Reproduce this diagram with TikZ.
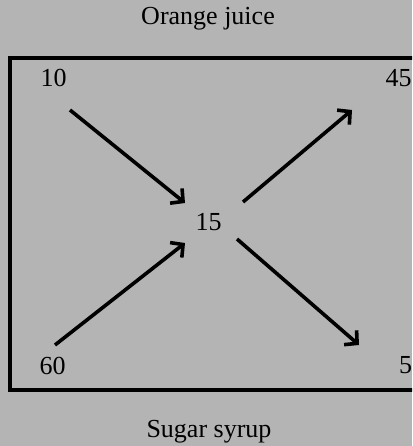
\documentclass[tikz,border=0pt]{standalone}
\usepackage{fontspec}
\setmainfont{Liberation Serif}
\usetikzlibrary{arrows.meta}
\definecolor{bggray}{RGB}{180,180,180}

\begin{document}
\begin{tikzpicture}[
    x=1pt, y=-1pt,
    label/.style={font=\fontsize{26}{31}\selectfont, inner sep=0pt},
    num/.style={font=\fontsize{26}{31}\selectfont, inner sep=0pt},
    frame/.style={draw=black, line width=3.4pt},
    arrow/.style={-{Straight Barb[length=9pt, width=19pt]}, line width=3.6pt}
]

% Background
\clip (0,0) rectangle (412,446);
\fill[bggray] (0,0) rectangle (412,446);

% Frame
\draw[frame] (10,58) rectangle (425,390);

% Labels
\node[label, anchor=base] (top) at (208,25) {Orange juice};
\node[label, anchor=base] (bottom) at (209,437) {Sugar syrup};

% Numbers
\node[num] (tl) at (53.5,78) {10};
\node[num] (tr) at (398.5,78) {45};
\node[num] (mid) at (208.5,222) {15};
\node[num] (bl) at (52.5,366) {60};
\node[num] (br) at (405.5,365.5) {5};

% Arrows
\draw[arrow] ([shift={(16.5,32)}]tl.center) -- ([shift={(-23.5,-19)}]mid.center);
\draw[arrow] ([shift={(2.5,-21)}]bl.center) -- ([shift={(-23.5,21)}]mid.center);
\draw[arrow] ([shift={(34.5,-20)}]mid.center) -- ([shift={(-46.5,32)}]tr.center);
\draw[arrow] ([shift={(28.5,17)}]mid.center) -- ([shift={(-46.5,-20.5)}]br.center);

\end{tikzpicture}
\end{document}
